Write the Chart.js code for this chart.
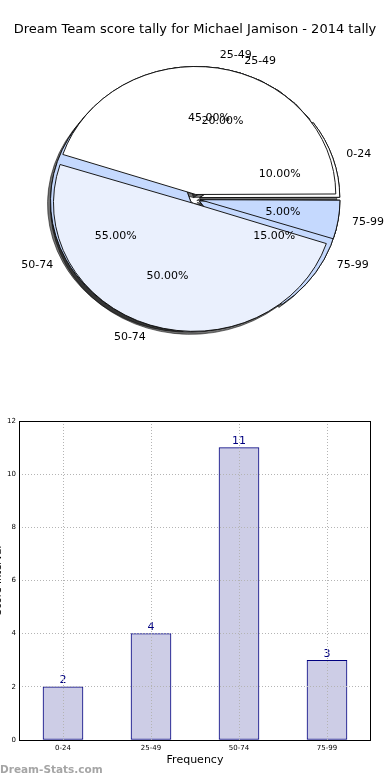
<!DOCTYPE html>
<html>
<head>
<meta charset="utf-8">
<script src="https://cdn.jsdelivr.net/npm/chart.js@4.4.1/dist/chart.umd.min.js"></script>
<style>
  body { margin:0; width:390px; height:780px; overflow:hidden; background:#fff; position:relative; font-family:"DejaVu Sans", sans-serif; }
  canvas { position:absolute; }
  #title { position:absolute; left:0; top:21px; width:390px; text-align:center; font-size:13px; color:#000; }
  #mark { position:absolute; left:0; top:763px; font-size:10.5px; font-weight:bold; color:#a5a5a5; }
</style>
</head>
<body>
<canvas id="pieA" width="390" height="398" style="left:0;top:0;width:390px;height:398px"></canvas>
<canvas id="pieB" width="390" height="398" style="left:0;top:0;width:390px;height:398px"></canvas>
<canvas id="bars" width="400" height="359" style="left:-10px;top:411px;width:400px;height:359px"></canvas>
<div id="title">Dream Team score tally for Michael Jamison - 2014 tally</div>
<div id="mark">Dream-Stats.com</div>
<script>
// score bands and the player's tally
const categories = ['0-24', '25-49', '50-74', '75-99'];
const tallyCounts = [2, 4, 11, 3];
// second pie drawn over the first one (percentages)
const overlayCats = ['25-49', '50-74', '75-99'];
const overlayPct = [45, 50, 5];

const tallyColors = ['#ffffff', '#eaf0fd', '#c5d9fe', '#c5d9fe'];
const overlayColors = ['#ffffff', '#eaf0fd', '#c5d9fe'];

const SQUASH = 128 / 140; // pie is drawn as an ellipse
const EXPLODE = 5;        // px each wedge is pushed out

// chart.js moves an arc by offset/4 but also grows its radius by offset/4*(1-sin(circ));
// keep the radius so it behaves like matplotlib's explode
function keepRadius(chart) {
    const meta = chart.getDatasetMeta(0);
    const R = meta.controller.outerRadius;
    meta.data.forEach(arc => {
        const circ = arc.endAngle - arc.startAngle;
        const fix = 1 - Math.sin(Math.min(Math.PI, circ));
        arc.outerRadius = R - arc.options.offset / 4 * fix;
    });
}

function squashStart(chart) {
    const ctx = chart.ctx;
    const a = chart.chartArea;
    const cx = (a.left + a.right) / 2, cy = (a.top + a.bottom) / 2;
    ctx.save();
    ctx.translate(cx, cy);
    ctx.scale(1, SQUASH);
    ctx.translate(-cx, -cy);
}

// matplotlib style labels: name outside, percent inside
function drawPieLabels(ctx, chart, names, pcts) {
    const meta = chart.getDatasetMeta(0);
    const R = meta.controller.outerRadius;
    ctx.save();
    ctx.font = '11px "DejaVu Sans"';
    ctx.fillStyle = '#000';
    ctx.textBaseline = 'middle';
    meta.data.forEach((arc, i) => {
        const mid = (arc.startAngle + arc.endAngle) / 2;
        const off = arc.options.offset / 4;
        const c = Math.cos(mid), s = Math.sin(mid);
        const lr = R * 1.1 + off, pr = R * 0.6 + off;
        ctx.textAlign = c > 0 ? 'left' : 'right';
        ctx.fillText(names[i], arc.x + lr * c, arc.y + lr * s * SQUASH);
        ctx.textAlign = 'center';
        ctx.fillText(pcts[i], arc.x + pr * c, arc.y + pr * s * SQUASH);
    });
    ctx.restore();
}

let chartA = null, chartB = null;

const overlayPlugin = {
    id: 'overlayPie',
    beforeDatasetsDraw(chart) { keepRadius(chart); squashStart(chart); },
    afterDatasetsDraw(chart) {
        chart.ctx.restore();
        // all texts go on the top canvas
        if (chartA) {
            const total = tallyCounts.reduce((a, b) => a + b, 0);
            drawPieLabels(chart.ctx, chartA, categories.slice().reverse(),
                tallyCounts.slice().reverse().map(v => (v / total * 100).toFixed(2) + '%'));
        }
        drawPieLabels(chart.ctx, chart, overlayCats.slice().reverse(),
            overlayPct.slice().reverse().map(v => v.toFixed(2) + '%'));
    }
};

const tallyPlugin = {
    id: 'tallyPie',
    beforeDatasetsDraw(chart) {
        keepRadius(chart);
        squashStart(chart);
        // shadows of both pies sit under everything
        const ctx = chart.ctx;
        ctx.save();
        ctx.shadowColor = 'rgba(0,0,0,0.55)';
        ctx.shadowOffsetX = -3;
        ctx.shadowOffsetY = 3;
        ctx.shadowBlur = 0;
        chart.getDatasetMeta(0).data.forEach(a => a.draw(ctx));
        if (chartB) chartB.getDatasetMeta(0).data.forEach(a => a.draw(ctx));
        ctx.restore();
    },
    afterDatasetsDraw(chart) { chart.ctx.restore(); }
};

function pieOptions() {
    return {
        responsive: false, animation: false, devicePixelRatio: 1,
        rotation: 90, radius: 140,
        layout: { padding: 0 },
        plugins: { legend: { display: false }, tooltip: { enabled: false } }
    };
}

chartB = new Chart(document.getElementById('pieB'), {
    type: 'pie',
    data: {
        labels: overlayCats.slice().reverse(),
        datasets: [{
            data: overlayPct.slice().reverse(),
            backgroundColor: overlayColors.slice().reverse(),
            borderColor: '#111', borderWidth: 1, offset: 4 * EXPLODE
        }]
    },
    options: pieOptions(),
    plugins: [overlayPlugin]
});

chartA = new Chart(document.getElementById('pieA'), {
    type: 'pie',
    data: {
        labels: categories.slice().reverse(),
        datasets: [{
            data: tallyCounts.slice().reverse(),
            backgroundColor: tallyColors.slice().reverse(),
            borderColor: '#111', borderWidth: 1, offset: 4 * EXPLODE
        }]
    },
    options: pieOptions(),
    plugins: [tallyPlugin]
});
chartB.draw(); // redraw so the texts of the first pie land on top

// bar chart
const framePlugin = {
    id: 'frame',
    afterDraw(chart) {
        const a = chart.chartArea, ctx = chart.ctx;
        ctx.save();
        ctx.strokeStyle = '#000';
        ctx.lineWidth = 1;
        ctx.strokeRect(Math.round(a.left) + 0.5, Math.round(a.top) + 0.5, Math.round(a.right - a.left) - 1, Math.round(a.bottom - a.top));
        ctx.restore();
    }
};
const valuePlugin = {
    id: 'values',
    afterDatasetsDraw(chart) {
        const ctx = chart.ctx;
        ctx.save();
        ctx.font = '11px "DejaVu Sans"';
        ctx.fillStyle = '#000080';
        ctx.textAlign = 'center';
        ctx.textBaseline = 'bottom';
        chart.getDatasetMeta(0).data.forEach((bar, i) => {
            ctx.fillText(String(tallyCounts[i]), bar.x, bar.y - 1);
        });
        ctx.restore();
    }
};

new Chart(document.getElementById('bars'), {
    type: 'bar',
    data: {
        labels: categories,
        datasets: [{
            data: tallyCounts,
            backgroundColor: '#cdcde6',
            borderColor: '#000080',
            borderWidth: 1,
            borderSkipped: false,
            barThickness: 40
        }]
    },
    options: {
        responsive: false, animation: false, devicePixelRatio: 1,
        layout: { padding: { top: 10, right: 19, left: 0, bottom: 0 } },
        plugins: { legend: { display: false }, tooltip: { enabled: false } },
        scales: {
            x: {
                grid: { offset: false, color: '#b4b4b4', tickLength: 0, z: 1 },
                border: { display: false, dash: [1, 2] },
                ticks: { font: { size: 7, family: 'DejaVu Sans' }, color: '#000', padding: 4 },
                title: { display: true, text: 'Frequency', font: { size: 11, family: 'DejaVu Sans' }, color: '#000', padding: { top: 0, bottom: 3 } },
                afterFit(s) { s.height = 30; }
            },
            y: {
                min: 0, max: 12,
                grid: { color: '#b4b4b4', tickLength: 0, z: 1 },
                border: { display: false, dash: [1, 2] },
                ticks: { stepSize: 2, font: { size: 7, family: 'DejaVu Sans' }, color: '#000', padding: 3 },
                title: { display: true, text: 'Score Interval', font: { size: 10, family: 'DejaVu Sans' }, color: '#000', padding: { top: 2, bottom: 0 } },
                afterFit(s) { s.width = 29; }
            }
        }
    },
    plugins: [framePlugin, valuePlugin]
});
</script>
</body>
</html>
